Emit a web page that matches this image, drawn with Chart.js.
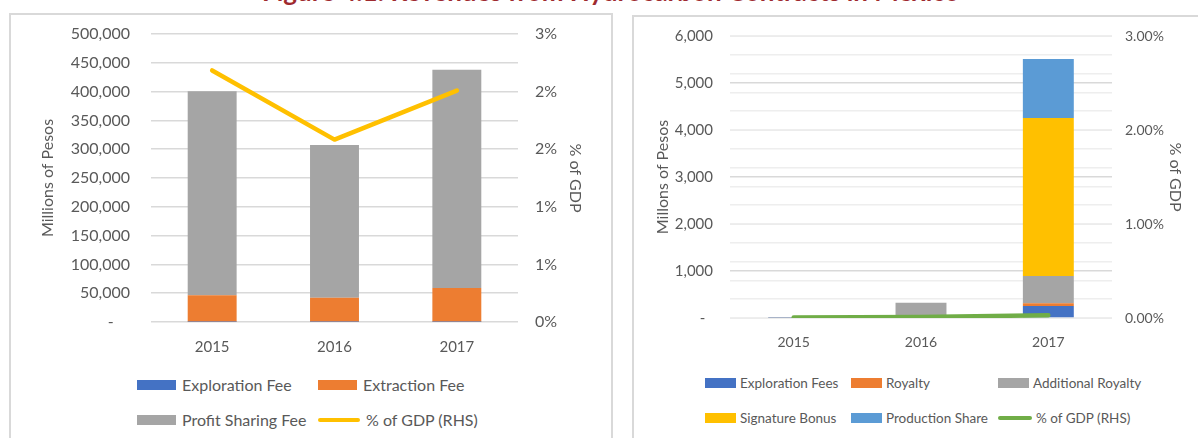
<!DOCTYPE html>
<html>
<head>
<meta charset="utf-8">
<script src="https://cdn.jsdelivr.net/npm/chart.js@4.4.1/dist/chart.umd.min.js"></script>
<style>
  body { margin: 0; width: 1198px; height: 438px; overflow: hidden; background: #fff; position: relative; font-family: Lato, sans-serif; }
  .title { position: absolute; left: 262px; top: -22px; white-space: nowrap; font: bold 26px/26px Lato, sans-serif; color: #9e2a2f; }
  .box { position: absolute; border: 2px solid #d9d9d9; box-sizing: border-box; background: #fff; }
  canvas { position: absolute; }
  .legend { position: absolute; color: #595959; }
  .legend .row { display: flex; align-items: center; }
  .legend .item { display: flex; align-items: center; white-space: nowrap; }
</style>
</head>
<body>
<div class="title">Figure 4.1: Revenues from Hydrocarbon Contracts in Mexico</div>
<div class="box" style="left:9px; top:13px; width:604px; height:440px;"></div>
<div class="box" style="left:632px; top:15px; width:600px; height:440px;"></div>
<canvas id="leftChart" width="602" height="346" style="left:10px; top:14px;"></canvas>
<canvas id="rightChart" width="564" height="344" style="left:634px; top:16px;"></canvas>
<div id="leftLegend" class="legend" style="left:137px; top:367px;"></div>
<div id="rightLegend" class="legend" style="left:705px; top:365px;"></div>

<script>
// years on both charts
const years = ['2015', '2016', '2017'];

// left: total revenue by contract fee, millions of pesos
const explorationFee = [400, 300, 600];
const extractionFee = [46000, 42000, 58500];
const profitSharingFee = [354000, 265000, 379000];
const gdpShareTotal = [2.62, 1.90, 2.41]; // percent

// right: revenue by concept, millions of pesos
const explorationFees = [8, 5, 255];
const royalty = [0, 2, 60];
const additionalRoyalty = [15, 320, 580];
const signatureBonus = [0, 0, 3360];
const productionShare = [0, 0, 1255];
const gdpShareContracts = [0.005, 0.01, 0.03]; // percent

const textColor = '#595959';
const gridColor = '#d9d9d9';

// fixed axis width; tick padding must not push the plot top down
function fixWidth(w) {
  return s => { s.width = w; s.paddingTop = 0; s.paddingBottom = 0; };
}
function fixHeight(h) { return s => { s.height = h; }; }

function barSet(label, data, color) {
  return { type: 'bar', label, data, backgroundColor: color, order: 1,
           barPercentage: 0.4, categoryPercentage: 1.0 };
}
function lineSet(label, data, color) {
  return { type: 'line', label, data, borderColor: color, backgroundColor: color,
           borderWidth: 4.5, pointRadius: 0, yAxisID: 'y1', order: 0,
           borderCapStyle: 'round', borderJoinStyle: 'round', tension: 0 };
}

const left = new Chart(document.getElementById('leftChart'), {
  data: {
    labels: years,
    datasets: [
      barSet('Exploration Fee', explorationFee, '#4472C4'),
      barSet('Extraction Fee', extractionFee, '#ED7D31'),
      barSet('Profit Sharing Fee', profitSharingFee, '#A5A5A5'),
      lineSet('% of GDP (RHS)', gdpShareTotal, '#FFC000')
    ]
  },
  options: {
    animation: false,
    responsive: false,
    devicePixelRatio: 1,
    layout: { padding: { top: 20, left: 0, right: 0, bottom: 0 } },
    plugins: { legend: { display: false }, tooltip: { enabled: false } },
    scales: {
      x: {
        stacked: true,
        grid: { display: false },
        border: { display: false },
        ticks: { color: textColor, font: { family: 'Lato', size: 15 }, padding: 8 },
        afterFit: fixHeight(38)
      },
      y: {
        stacked: true,
        min: 0, max: 500000,
        grid: { color: gridColor, lineWidth: 1.5, drawTicks: false },
        border: { display: false },
        ticks: {
          stepSize: 50000, padding: 21, autoSkip: false, color: textColor, font: { family: 'Lato', size: 16 },
          callback: v => v === 0 ? '-    ' : v.toLocaleString('en-US')
        },
        title: { display: true, text: 'Millions of Pesos', color: textColor,
                 font: { family: 'Lato', size: 16 }, padding: { top: 28, bottom: 0 } },
        afterFit: fixWidth(141)
      },
      y1: {
        position: 'right',
        min: 0, max: 3,
        grid: { display: false, drawTicks: false },
        border: { display: false },
        ticks: {
          stepSize: 0.6, padding: 17, autoSkip: false, color: textColor, font: { family: 'Lato', size: 16 },
          callback: v => Math.round(v) + '%'
        },
        title: { display: true, text: '% of GDP', color: textColor,
                 font: { family: 'Lato', size: 16 }, padding: { top: 27, bottom: 0 } },
        afterFit: fixWidth(94)
      }
    }
  }
});

const right = new Chart(document.getElementById('rightChart'), {
  data: {
    labels: years,
    datasets: [
      barSet('Exploration Fees', explorationFees, '#4472C4'),
      barSet('Royalty', royalty, '#ED7D31'),
      barSet('Additional Royalty', additionalRoyalty, '#A5A5A5'),
      barSet('Signature Bonus', signatureBonus, '#FFC000'),
      barSet('Production Share', productionShare, '#5B9BD5'),
      lineSet('% of GDP (RHS)', gdpShareContracts, '#70AD47')
    ]
  },
  options: {
    animation: false,
    responsive: false,
    devicePixelRatio: 1,
    layout: { padding: { top: 20, left: 0, right: 0, bottom: 0 } },
    plugins: { legend: { display: false }, tooltip: { enabled: false } },
    scales: {
      x: {
        stacked: true,
        grid: { display: false },
        border: { display: false },
        ticks: { color: textColor, font: { family: 'Lato', size: 14 }, padding: 8 },
        afterFit: fixHeight(42)
      },
      y: {
        stacked: true,
        min: 0, max: 6000,
        grid: { color: gridColor, lineWidth: 1.5, drawTicks: false },
        border: { display: false },
        ticks: {
          stepSize: 1000, padding: 17, autoSkip: false, color: textColor, font: { family: 'Lato', size: 15 },
          callback: v => v === 0 ? '-  ' : v.toLocaleString('en-US')
        },
        title: { display: true, text: 'Millons of Pesos', color: textColor,
                 font: { family: 'Lato', size: 16 }, padding: { top: 19, bottom: 0 } },
        afterFit: fixWidth(96)
      },
      y1: {
        position: 'right',
        min: 0, max: 3,
        grid: { color: '#eeeeee', lineWidth: 1.5, drawTicks: false },
        border: { display: false },
        ticks: {
          stepSize: 0.2, padding: 13, autoSkip: false, color: textColor, font: { family: 'Lato', size: 14 },
          // minor steps keep their gridline but carry no label
          callback: v => Math.abs(v - Math.round(v)) < 1e-6 ? v.toFixed(2) + '%' : ''
        },
        title: { display: true, text: '% of GDP', color: textColor,
                 font: { family: 'Lato', size: 16 }, padding: { top: 13, bottom: 0 } },
        afterFit: fixWidth(86)
      }
    }
  }
});

// HTML legend laid out in fixed columns, built from the chart datasets
function buildLegend(el, chart, cfg) {
  const sets = chart.data.datasets;
  let row;
  sets.forEach((ds, i) => {
    const col = i % cfg.perRow;
    if (col === 0) {
      row = document.createElement('div');
      row.className = 'row';
      row.style.height = cfg.rowHeight + 'px';
      el.appendChild(row);
    }
    const item = document.createElement('div');
    item.className = 'item';
    if (cfg.cols[col]) item.style.width = cfg.cols[col] + 'px';
    item.style.fontSize = cfg.fontSize + 'px';
    const sw = document.createElement('span');
    if (ds.type === 'line') {
      sw.style.cssText = `display:inline-block;width:${cfg.lineW}px;height:4px;border-radius:2px;background:${ds.borderColor}`;
    } else {
      sw.style.cssText = `display:inline-block;width:${cfg.boxW}px;height:10px;background:${ds.backgroundColor}`;
    }
    sw.style.marginRight = cfg.gap + 'px';
    item.appendChild(sw);
    item.appendChild(document.createTextNode(ds.label));
    row.appendChild(item);
  });
}

buildLegend(document.getElementById('leftLegend'), left,
  { perRow: 2, cols: [181, 0], rowHeight: 35, fontSize: 16, boxW: 39, lineW: 42, gap: 6 });
buildLegend(document.getElementById('rightLegend'), right,
  { perRow: 3, cols: [146, 147, 0], rowHeight: 35, fontSize: 13.5, boxW: 31, lineW: 34, gap: 4 });
</script>
</body>
</html>
